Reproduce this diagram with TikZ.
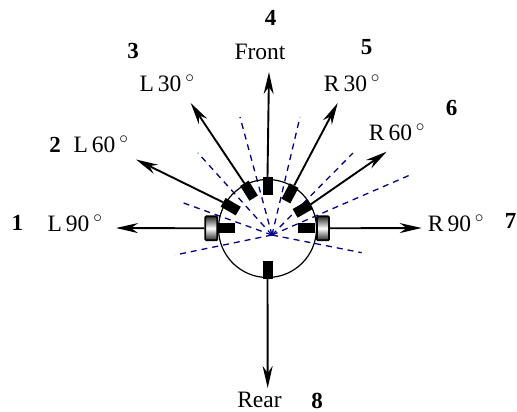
\documentclass[tikz,border=0pt]{standalone}
\usepackage{fontspec}
\setmainfont{Liberation Serif}
\usetikzlibrary{arrows.meta}
\definecolor{dashblue}{RGB}{0,0,139}
\tikzset{
 lab/.style={inner sep=0pt,font=\fontsize{23.5}{25}\selectfont},
 num/.style={inner sep=0pt,font=\fontsize{23}{24}\selectfont\bfseries},
 ray/.style={line width=1.9pt,-{Stealth[length=22pt,width=10pt,inset=7pt]}},
 beam/.style={dashblue,line width=1.3pt,dash pattern=on 6pt off 5pt},
 sensor/.style={fill=black,draw=none,minimum width=10pt,minimum height=17.5pt,inner sep=0pt},
 wheel/.style={draw=black,line width=1.7pt,rounded corners=1pt,minimum width=12pt,minimum height=24pt,inner sep=0pt,top color=black!85,bottom color=black!85,middle color=white}
}
\begin{document}
\begin{tikzpicture}[x=1pt,y=-1pt]
\useasboundingbox (0,0) rectangle (517,412);
\clip (0,0) rectangle (517,412);
\coordinate (c) at (272,235);
\foreach \n/\x/\y in {b1/361.7/252.7,b2/175/255,b3/180/201.7,b4/198/153,b5/240/117,b6/300/117,b7/353/153,b8/410/175}
  \coordinate (\n) at (\x,\y);
\foreach \n in {b1,b2,b3,b4,b5,b6,b7,b8}
  \draw[beam] (c) -- (\n);
\node[draw,circle,line width=1.2pt,minimum size=98pt,inner sep=0pt] (body) at (267.5,228.5) {};
\node[sensor] (sF) at (267.5,186) {};
\node[sensor] (sB) at (267.5,270) {};
\node[sensor,rotate=90] (sL) at (226,228.3) {};
\node[sensor,rotate=90] (sR) at (306.5,228.3) {};
\node[sensor,rotate=32] (sL30) at (249,190.7) {};
\node[sensor,rotate=60] (sL60) at (230.7,206.7) {};
\node[sensor,rotate=-28] (sR30) at (290,193.3) {};
\node[sensor,rotate=-60] (sR60) at (302.7,209) {};
\node[wheel] (wL) at (211.3,228.3) {};
\node[wheel] (wR) at (323,228.3) {};
\coordinate (tF) at (269,72);
\coordinate (tB) at (267.7,388);
\coordinate (tL) at (116,228);
\coordinate (tR) at (421.7,228);
\coordinate (tL60) at (136,159.5);
\coordinate (tL30) at (190.7,103);
\coordinate (tR30) at (337.7,103);
\coordinate (tR60) at (386.7,151.7);
\draw[ray] (sF.north) -- (tF);
\draw[ray] (body.south) -- (tB);
\draw[ray] (wL.west) -- (tL);
\draw[ray] (wR.east) -- (tR);
\draw[ray] (sL60.north) -- (tL60);
\draw[ray] (sL30.north) -- (tL30);
\draw[ray] (sR30.north) -- (tR30);
\draw[ray] (sR60.north) -- (tR60);
\node[lab] (lF) at (260,52) {Front};
\node[lab] (lB) at (259.5,400) {Rear};
\node[lab] (lL) at (75,223) {L\,90\,$^\circ$};
\node[lab] (lR) at (456,223) {R\,90\,$^\circ$};
\node[lab] (lL60) at (101,144) {L\,60\,$^\circ$};
\node[lab] (lL30) at (167,83) {L\,30\,$^\circ$};
\node[lab] (lR30) at (352,83) {R\,30\,$^\circ$};
\node[lab] (lR60) at (397,132.7) {R\,60\,$^\circ$};
\node[num] (n1) at (17.5,223) {1};
\node[num] (n2) at (55,145) {2};
\node[num] (n3) at (133,51) {3};
\node[num] (n4) at (270.7,17.5) {4};
\node[num] (n5) at (366.7,46.7) {5};
\node[num] (n6) at (451.7,108) {6};
\node[num] (n7) at (510.5,221) {7};
\node[num] (n8) at (317,401) {8};
\end{tikzpicture}
\end{document}
